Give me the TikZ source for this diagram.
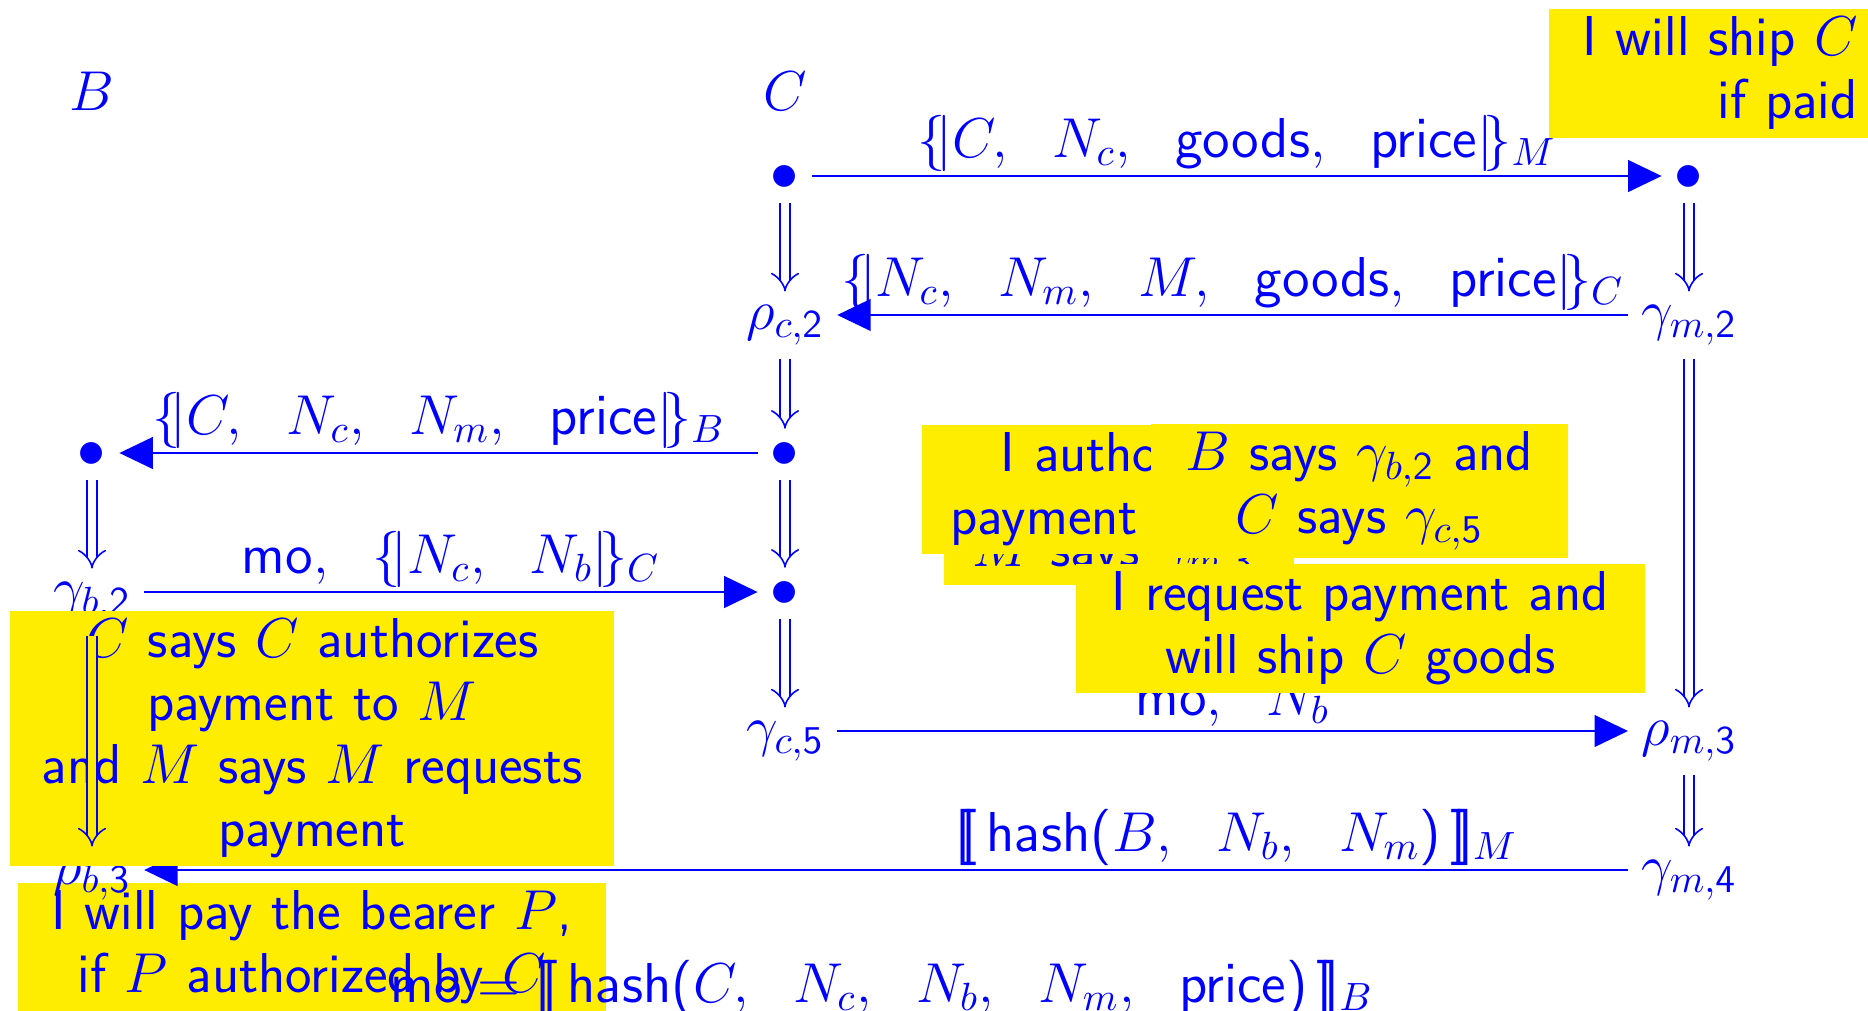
\RequirePackage{fix-cm}
\documentclass[tikz,border=0pt]{standalone}
\usepackage{amsmath}
\usepackage{xcolor}
\usepackage{tikz}
\usetikzlibrary{arrows.meta,cd}
\renewcommand{\familydefault}{\sfdefault}
\DeclareSymbolFont{operators}{OT1}{cmss}{m}{n}
\SetSymbolFont{operators}{bold}{OT1}{cmss}{bx}{n}
\definecolor{protoblue}{RGB}{0,0,255}
\definecolor{noteyellow}{RGB}{255,237,0}
\newcommand{\enc}[1]{\{\!|#1|\!\}}
\newcommand{\sig}[1]{[\![\,#1\,]\!]}

\begin{document}
\begin{tikzpicture}[
        /tikz/commutative diagrams/center yshift=4pt,
        every node/.style={font=\fontsize{16}{17.9}\selectfont, text=protoblue},
        pnode/.style={shape=asymmetrical rectangle, inner sep=3.6pt},
        note/.style={fill=noteyellow, align=center, inner xsep=0pt, inner ysep=2.3pt},
        lbl/.style={above, inner sep=1pt},
        msg/.style={draw=protoblue, line width=0.6pt, -{Triangle[length=9.5pt,width=9pt]}},
        trans/.style={draw=protoblue, double, double distance=2.4pt, line width=0.45pt, -{Implies}}
    ]
        \useasboundingbox (0,0) rectangle (18.68,-10.10);

        \node[note, text width=5.88cm, anchor=north west] (bearer) at (0.17,-8.82) {I will pay the bearer $P$,\\ if $P$ authorized by $C$};

        \node[pnode] (hdrB) at (0.92,-0.96) {$B$};
        \node[pnode] (hdrC) at (7.85,-0.96) {$C$};
        \node[pnode] (c1) at (7.85,-1.76) {$\bullet$};
        \node[pnode] (m1) at (16.89,-1.76) {$\bullet$};
        \node[pnode] (rc2) at (7.85,-3.15) {$\rho_{c,2}$};
        \node[pnode] (gm2) at (16.89,-3.15) {$\gamma_{m,2}$};
        \node[pnode] (b3) at (0.92,-4.53) {$\bullet$};
        \node[pnode] (c3) at (7.85,-4.53) {$\bullet$};
        \node[pnode] (gb2) at (0.92,-5.92) {$\gamma_{b,2}$};
        \node[pnode] (c4) at (7.85,-5.92) {$\bullet$};
        \node[pnode] (gc5) at (7.85,-7.31) {$\gamma_{c,5}$};
        \node[pnode] (rm3) at (16.89,-7.31) {$\rho_{m,3}$};
        \node[pnode] (rb3) at (0.92,-8.70) {$\rho_{b,3}$};
        \node[pnode] (gm4) at (16.89,-8.70) {$\gamma_{m,4}$};
        \node[anchor=base] (modef) at (8.82,-10.02) {$\mathsf{mo} = \sig{\mathsf{hash}(C,\ \ N_c,\ \ N_b,\ \ N_m,\ \ \mathsf{price})}_B$};

        \draw[msg] (c1) -- node[lbl] {$\enc{C,\ \ N_c,\ \ \mathsf{goods},\ \ \mathsf{price}}_M$} (m1);
        \draw[msg] (gm2) -- node[lbl] {$\enc{N_c,\ \ N_m,\ \ M,\ \ \mathsf{goods},\ \ \mathsf{price}}_C$} (rc2);
        \draw[msg] (c3) -- node[lbl] {$\enc{C,\ \ N_c,\ \ N_m,\ \ \mathsf{price}}_B$} (b3);
        \draw[msg] (gb2) -- node[lbl] {$\mathsf{mo},\ \ \enc{N_c,\ \ N_b}_C$} (c4);
        \draw[msg] (gc5) -- node[lbl] {$\mathsf{mo},\ \ N_b$} (rm3);
        \draw[msg] (gm4) -- node[lbl, pos=0.264] {$\sig{\mathsf{hash}(B,\ \ N_b,\ \ N_m)}_M$} (rb3);

        \node[note, align=left, inner xsep=0.29cm, inner ysep=0pt, text width=2.92cm, text height=0.67cm, text depth=0.19cm, anchor=south west] (msays) at (9.43,-5.86) {$M$ says $\gamma_{m,3}$};
        \node[note, align=left, inner xsep=0.29cm, text width=4.71cm, anchor=north west] (authA) at (9.21,-4.24) {\hspace*{0.5cm}I authorize\\ payment};
        \node[note, text width=4.17cm, anchor=north west] (says) at (11.50,-4.23) {$B$ says $\gamma_{b,2}$ and\\ $C$ says $\gamma_{c,5}$};
        \node[note, text width=5.69cm, anchor=north west] (request) at (10.75,-5.63) {I request payment and\\ will ship $C$ goods};
        \node[note, text width=6.04cm, anchor=north west] (authz) at (0.095,-6.10) {$C$ says $C$ authorizes\\ payment to $M$\\ and $M$ says $M$ requests\\ payment};
        \node[note, align=right, inner xsep=0.2cm, text width=2.89cm, anchor=north west] (ship) at (15.48,-0.08) {I will ship $C$\\ if paid};

        \draw[trans] (c1) -- (rc2); \draw[trans] (rc2) -- (c3);
        \draw[trans] (c3) -- (c4); \draw[trans] (c4) -- (gc5);
        \draw[trans] (m1) -- (gm2); \draw[trans] (gm2) -- (rm3);
        \draw[trans] (rm3) -- (gm4); \draw[trans] (b3) -- (gb2);
        \draw[trans, double=noteyellow] (gb2) -- (rb3);
    \end{tikzpicture}
\end{document}
